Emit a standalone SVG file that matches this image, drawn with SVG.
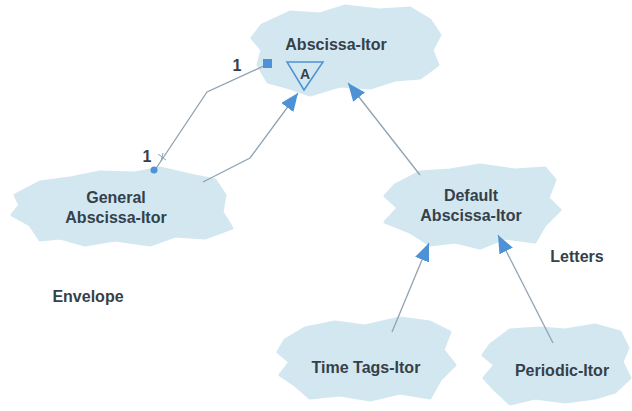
<svg xmlns="http://www.w3.org/2000/svg" width="632" height="411" viewBox="0 0 632 411">
<style>
.cloud{fill:#d3e7f1;stroke:#d3e7f1;stroke-width:3;stroke-linejoin:round}
.t{font-family:"Liberation Sans",Arial,sans-serif;font-weight:bold;font-size:16px;fill:#34414b;text-anchor:middle}
.c{fill:none;stroke:#8ea3b3;stroke-width:1.3}
</style>
<defs>
<marker id="ah" markerUnits="userSpaceOnUse" markerWidth="20" markerHeight="16" refX="18" refY="7.5" orient="auto">
<path d="M0,0 L18,7.5 L0,15 Z" fill="#4d92d6"/>
</marker>
</defs>
<rect width="632" height="411" fill="#ffffff"/>
<g id="abscissa-itor">
<path class="cloud" d="M262,25 L290,12 L320,14 L345,6 L380,10 L410,8 L430,20 L440,35 L432,50 L438,65 L420,78 L395,80 L370,88 L340,86 L310,95 L290,88 L268,82 L258,65 L262,50 L252,38 Z"/>
<text class="t" x="336" y="50">Abscissa-Itor</text>
<path d="M287,62 L323,62 L304,90 Z" fill="none" stroke="#4d92d6" stroke-width="1.5"/>
<text class="t" x="305" y="79" style="font-size:14px">A</text>
</g>
<g id="general-abscissa-itor">
<path class="cloud" d="M15,195 L40,182 L70,178 L100,172 L135,173 L160,168 L190,175 L215,180 L225,195 L222,212 L232,228 L205,238 L175,236 L150,245 L115,240 L85,245 L60,238 L40,240 L30,225 L12,215 L20,205 Z"/>
<text class="t" x="116" y="203">General</text>
<text class="t" x="116" y="223">Abscissa-Itor</text>
</g>
<g id="default-abscissa-itor">
<path class="cloud" d="M395,185 L420,172 L450,170 L480,165 L515,170 L545,168 L555,180 L548,198 L560,210 L545,225 L535,242 L505,238 L480,248 L455,242 L430,245 L410,232 L385,222 L398,208 L385,196 Z"/>
<text class="t" x="471" y="201">Default</text>
<text class="t" x="471" y="221">Abscissa-Itor</text>
</g>
<g id="time-tags-itor">
<path class="cloud" d="M285,340 L305,328 L335,322 L365,326 L400,318 L430,322 L450,332 L443,350 L455,365 L440,380 L430,398 L400,393 L370,400 L340,395 L310,398 L295,385 L280,375 L290,362 L278,352 Z"/>
<text class="t" x="366" y="373">Time Tags-Itor</text>
</g>
<g id="periodic-itor">
<path class="cloud" d="M490,345 L510,330 L540,328 L565,330 L595,325 L620,332 L628,348 L622,362 L630,378 L615,392 L595,398 L565,402 L535,398 L510,404 L495,390 L484,378 L495,365 L483,355 Z"/>
<text class="t" x="562" y="376">Periodic-Itor</text>
</g>
<g id="connectors">
<path class="c" d="M268,64 L207,92 L155,170"/>
<rect x="263" y="59" width="9" height="9" fill="#4d92d6"/>
<circle cx="154" cy="170" r="3.5" fill="#4d92d6"/>
<path d="M158,154 L166,160 M161,161 L163,153" stroke="#8ea3b3" stroke-width="1"/>
<path class="c" d="M203,182 L250,158 L298,93" marker-end="url(#ah)"/>
<path class="c" d="M420,175 L348,83" marker-end="url(#ah)"/>
<path class="c" d="M392,332 L429,243" marker-end="url(#ah)"/>
<path class="c" d="M553,343 L498,235" marker-end="url(#ah)"/>
</g>
<text class="t" x="237" y="71">1</text>
<text class="t" x="147" y="162">1</text>
<text class="t" x="577" y="262">Letters</text>
<text class="t" x="88" y="302">Envelope</text>
</svg>
